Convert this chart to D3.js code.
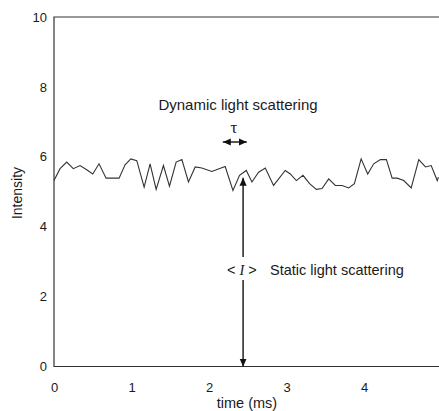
<!DOCTYPE html>
<html>
<head>
<meta charset="utf-8">
<script src="https://cdn.jsdelivr.net/npm/d3@7"></script>
<style>
  body { margin: 0; background: #fff; }
  text { font-family: "Liberation Sans", Arial, sans-serif; fill: #1a1a1a; }
</style>
</head>
<body>
<div id="chart"></div>
<script>
// time (ms) and intensity samples
const times = [0, 0.078, 0.164, 0.249, 0.336, 0.422, 0.5, 0.581, 0.672, 0.84, 0.917, 0.991,
  1.068, 1.163, 1.24, 1.318, 1.412, 1.49, 1.576, 1.65, 1.735, 1.822, 1.908, 2.037, 2.209,
  2.309, 2.394, 2.481, 2.554, 2.64, 2.726, 2.833, 2.984, 3.049, 3.127, 3.213, 3.298, 3.385,
  3.459, 3.544, 3.63, 3.717, 3.802, 3.876, 3.963, 4.048, 4.125, 4.212, 4.289, 4.363, 4.428,
  4.513, 4.609, 4.707, 4.793, 4.867, 4.945, 4.96];
const intensity = [5.32, 5.66, 5.85, 5.66, 5.75, 5.63, 5.51, 5.8, 5.39, 5.39, 5.77, 5.94,
  5.89, 5.13, 5.8, 5.07, 5.75, 5.16, 5.85, 5.92, 5.28, 5.71, 5.68, 5.58, 5.72,
  5.04, 5.47, 5.61, 5.28, 5.56, 5.68, 5.18, 5.61, 5.51, 5.32, 5.47, 5.23, 5.07,
  5.09, 5.37, 5.18, 5.18, 5.11, 5.23, 5.94, 5.51, 5.8, 5.92, 5.92, 5.39, 5.39,
  5.32, 5.11, 5.92, 5.71, 5.75, 5.32, 5.42];
const xTicks = [0, 1, 2, 3, 4];
const yTicks = [0, 2, 4, 6, 8, 10];

// annotation anchors (data units)
const staticArrowT = 2.44;
const staticArrowTop = 5.4;
const staticLabelI = 2.75;
const dynamicT = 2.32;

const width = 439, height = 411;
const margin = {top: 17, left: 54};

const svg = d3.select('#chart').append('svg')
    .attr('width', width)
    .attr('height', height);

const x = d3.scaleLinear().domain([0, 5]).range([margin.left, margin.left + 5 * 77.5]);
const y = d3.scaleLinear().domain([0, 10]).range([366.5, margin.top]);

const defs = svg.append('defs');
defs.append('marker')
    .attr('id', 'head')
    .attr('viewBox', '0 0 10 10')
    .attr('refX', 10).attr('refY', 5)
    .attr('markerWidth', 8).attr('markerHeight', 8)
    .attr('markerUnits', 'userSpaceOnUse')
    .attr('orient', 'auto-start-reverse')
    .append('path')
    .attr('d', 'M0,0.5 L10,5 L0,9.5 Z')
    .attr('fill', '#111');

// frame: left, top, bottom
svg.append('path')
    .attr('d', `M${width},${y(10)} H${x(0)} V${y(0)} H${width}`)
    .attr('fill', 'none')
    .attr('stroke', '#333')
    .attr('stroke-width', 1.2);

const yAxis = svg.append('g')
    .attr('transform', `translate(${x(0)},0)`)
    .call(d3.axisLeft(y).tickValues(yTicks).tickSize(0).tickPadding(7));
yAxis.select('.domain').remove();
yAxis.selectAll('text').style('font-size', '13px').style('fill', '#1a1a1a')
    .style('font-family', '"Liberation Sans", Arial, sans-serif');

const xAxis = svg.append('g')
    .attr('transform', `translate(0,${y(0)})`)
    .call(d3.axisBottom(x).tickValues(xTicks).tickSize(0).tickPadding(16).tickFormat(d3.format('d')));
xAxis.select('.domain').remove();
xAxis.selectAll('text').style('font-size', '13px').style('fill', '#1a1a1a')
    .style('font-family', '"Liberation Sans", Arial, sans-serif');

svg.append('text')
    .attr('transform', 'translate(22,193) rotate(-90)')
    .attr('text-anchor', 'middle')
    .style('font-size', '14px')
    .text('Intensity');

svg.append('text')
    .attr('x', 247).attr('y', 408)
    .attr('text-anchor', 'middle')
    .style('font-size', '14.5px')
    .text('time (ms)');

// intensity trace
const points = times.map((t, i) => [t, intensity[i]]);
svg.append('path')
    .datum(points)
    .attr('fill', 'none')
    .attr('stroke', '#333')
    .attr('stroke-width', 1.1)
    .attr('stroke-linejoin', 'miter')
    .attr('d', d3.line().x(d => x(d[0])).y(d => y(d[1])));

// static light scattering arrow
const ax = x(staticArrowT);
svg.append('line')
    .attr('x1', ax).attr('x2', ax)
    .attr('y1', 257).attr('y2', y(staticArrowTop))
    .attr('stroke', '#111').attr('stroke-width', 1.4)
    .attr('marker-end', 'url(#head)');
svg.append('line')
    .attr('x1', ax).attr('x2', ax)
    .attr('y1', 280).attr('y2', y(0))
    .attr('stroke', '#111').attr('stroke-width', 1.4)
    .attr('marker-end', 'url(#head)');

const lbl = svg.append('text')
    .attr('x', 227).attr('y', y(staticLabelI) + 5)
    .style('font-size', '14.5px')
    .attr('xml:space', 'preserve');
lbl.append('tspan').text('< ');
lbl.append('tspan').style('font-family', '"Liberation Serif", "Times New Roman", serif')
    .style('font-style', 'italic').text('I');
lbl.append('tspan').text(' >');
lbl.append('tspan').attr('x', 270).text('Static light scattering');

// dynamic light scattering annotation
svg.append('text')
    .attr('x', 238).attr('y', 110)
    .attr('text-anchor', 'middle')
    .style('font-size', '15px')
    .text('Dynamic light scattering');
svg.append('text')
    .attr('x', x(dynamicT)).attr('y', 133)
    .attr('text-anchor', 'middle')
    .style('font-size', '17px')
    .style('font-family', '"Liberation Serif", "Times New Roman", serif')
    .text('τ');
svg.append('line')
    .attr('x1', x(dynamicT) - 11).attr('x2', x(dynamicT) + 13)
    .attr('y1', 142).attr('y2', 142)
    .attr('stroke', '#111').attr('stroke-width', 1.4)
    .attr('marker-start', 'url(#head)')
    .attr('marker-end', 'url(#head)');
</script>
</body>
</html>
